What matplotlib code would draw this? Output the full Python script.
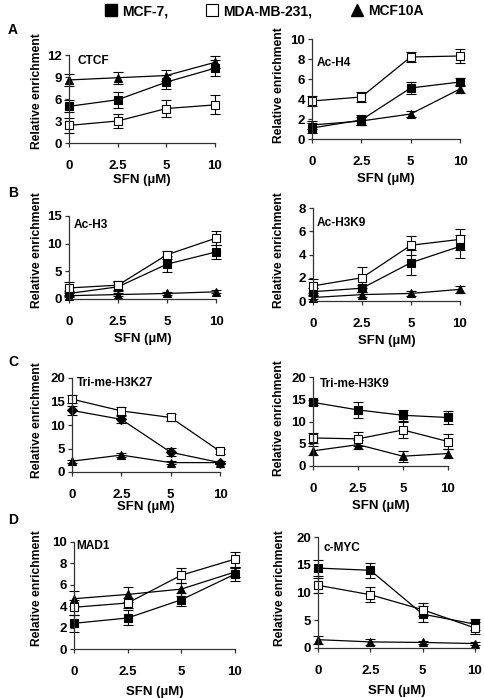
import matplotlib
matplotlib.use("Agg")
import matplotlib.pyplot as plt
from matplotlib.lines import Line2D

plt.rcParams['font.family'] = ['Liberation Sans', 'DejaVu Sans']
plt.rcParams['font.weight'] = 'bold'

# --- data ---
doses = ['0', '2.5', '5', '10']
cells = ['MCF-7,', 'MDA-MB-231,', 'MCF10A']

ctcf_mcf7 = [5.0, 5.9, 8.3, 10.2]
ctcf_mcf7_err = [0.8, 1.1, 1.0, 1.1]
ctcf_mda = [2.4, 3.0, 4.7, 5.2]
ctcf_mda_err = [1.0, 0.9, 1.2, 1.3]
ctcf_10a = [8.6, 8.9, 9.2, 11.0]
ctcf_10a_err = [0.8, 0.8, 0.7, 0.8]

ach4_mcf7 = [1.1, 1.9, 5.1, 5.7]
ach4_mcf7_err = [0.5, 0.5, 0.6, 0.4]
ach4_mda = [3.8, 4.2, 8.2, 8.3]
ach4_mda_err = [0.5, 0.5, 0.5, 0.7]
ach4_10a = [1.4, 1.8, 2.5, 5.0]
ach4_10a_err = [0.4, 0.4, 0.3, 0.4]

ach3_mcf7 = [1.0, 2.2, 6.3, 8.5]
ach3_mcf7_err = [0.5, 0.8, 1.4, 1.2]
ach3_mda = [2.0, 2.5, 8.0, 11.0]
ach3_mda_err = [1.0, 0.8, 0.7, 1.2]
ach3_10a = [0.6, 0.8, 1.0, 1.3]
ach3_10a_err = [0.2, 0.2, 0.2, 0.3]

ach3k9_mcf7 = [0.8, 1.1, 3.3, 4.7]
ach3k9_mcf7_err = [0.3, 0.3, 1.1, 1.0]
ach3k9_mda = [1.3, 2.0, 4.8, 5.3]
ach3k9_mda_err = [0.6, 0.9, 0.8, 0.9]
ach3k9_10a = [0.3, 0.55, 0.65, 1.0]
ach3k9_10a_err = [0.1, 0.2, 0.2, 0.3]

k27_mcf7 = [13.1, 11.2, 4.2, 2.0]
k27_mcf7_err = [1.0, 0.8, 0.9, 0.3]
k27_mda = [15.5, 13.0, 11.6, 4.4]
k27_mda_err = [0.8, 0.8, 0.8, 0.5]
k27_10a = [2.3, 3.6, 2.0, 2.0]
k27_10a_err = [0.3, 0.4, 0.3, 0.3]

k9_mcf7 = [14.3, 12.6, 11.4, 10.9]
k9_mcf7_err = [0.5, 1.8, 1.2, 1.5]
k9_mda = [6.3, 6.1, 8.1, 5.5]
k9_mda_err = [1.2, 1.5, 1.8, 1.6]
k9_10a = [3.4, 4.8, 2.2, 2.8]
k9_10a_err = [1.0, 1.0, 1.2, 1.0]

mad1_mcf7 = [2.4, 2.9, 4.6, 7.0]
mad1_mcf7_err = [0.8, 0.7, 0.6, 0.6]
mad1_mda = [3.9, 4.3, 6.9, 8.4]
mad1_mda_err = [0.7, 0.5, 0.7, 0.7]
mad1_10a = [4.7, 5.1, 5.6, 7.2]
mad1_10a_err = [0.7, 0.7, 0.6, 0.5]

myc_mcf7 = [14.4, 14.0, 6.1, 4.3]
myc_mcf7_err = [1.4, 1.4, 1.5, 1.0]
myc_mda = [11.3, 9.6, 6.9, 3.6]
myc_mda_err = [1.3, 1.4, 1.2, 1.0]
myc_10a = [1.5, 1.1, 1.0, 0.8]
myc_10a_err = [0.7, 0.6, 0.2, 0.2]

# --- layout (pixels of a 485x698 canvas) ---
W, H = 485, 698

def px_axes(fig, x0, x1, ytop, ybot):
    return fig.add_axes([x0 / W, 1 - ybot / H, (x1 - x0) / W, (ybot - ytop) / H])

fig = plt.figure(figsize=(W / 100, H / 100), dpi=100)

panels = [
    # name, box, yticks, title pos, series, ylabel x, ylabel y, xlabel pad, mcf-7 marker
    ("CTCF", (69, 215, 55, 143), [0, 3, 6, 9, 12], (0.055, 0.93),
     (ctcf_mcf7, ctcf_mcf7_err, ctcf_mda, ctcf_mda_err, ctcf_10a, ctcf_10a_err), 43, 91, 1.5, 's'),
    ("Ac-H4", (312, 460, 39, 139), [0, 2, 4, 6, 8, 10], (0.034, 0.76),
     (ach4_mcf7, ach4_mcf7_err, ach4_mda, ach4_mda_err, ach4_10a, ach4_10a_err), 285, 85, 4, 's'),
    ("Ac-H3", (69, 216, 216, 299), [0, 5, 10, 15], (0.03, 0.89),
     (ach3_mcf7, ach3_mcf7_err, ach3_mda, ach3_mda_err, ach3_10a, ach3_10a_err), 43, 250, 4, 's'),
    ("Ac-H3K9", (313, 460, 208, 301), [0, 2, 4, 6, 8], (0.027, 0.84),
     (ach3k9_mcf7, ach3k9_mcf7_err, ach3k9_mda, ach3k9_mda_err, ach3k9_10a, ach3k9_10a_err), 285, 250, 4, 's'),
    ("Tri-me-H3K27", (72, 220, 378, 472), [0, 5, 10, 15, 20], (0.034, 0.95),
     (k27_mcf7, k27_mcf7_err, k27_mda, k27_mda_err, k27_10a, k27_10a_err), 43, 420, 0, 'D'),
    ("Tri-me-H3K9", (313, 448, 377, 466), [0, 5, 10, 15, 20], (0.052, 0.92),
     (k9_mcf7, k9_mcf7_err, k9_mda, k9_mda_err, k9_10a, k9_10a_err), 285, 418, 4, 's'),
    ("MAD1", (74, 235, 542, 649), [0, 2, 4, 6, 8, 10], (0.012, 0.96),
     (mad1_mcf7, mad1_mcf7_err, mad1_mda, mad1_mda_err, mad1_10a, mad1_10a_err), 43, 588, 6, 's'),
    ("c-MYC", (318, 475, 537, 648), [0, 5, 10, 15, 20], (0.038, 0.9),
     (myc_mcf7, myc_mcf7_err, myc_mda, myc_mda_err, myc_10a, myc_10a_err), 286, 588, 6, 's'),
]

x = list(range(len(doses)))
err_kw = dict(color='black', lw=0.9, elinewidth=0.8, capsize=3.3, capthick=0.8,
              markeredgecolor='black', markeredgewidth=0.8, clip_on=False)

for name, box, yticks, tpos, series, ylx, yly, xpad, m7 in panels:
    ax = px_axes(fig, *box)
    s7, e7, smda, emda, s10, e10 = series
    ax.errorbar(x, s10, yerr=e10, marker='^', ms=6, markerfacecolor='black', **err_kw)
    ax.errorbar(x, s7, yerr=e7, marker=m7, ms=5.5 if m7 == 's' else 5, markerfacecolor='black', **err_kw)
    ax.errorbar(x, smda, yerr=emda, marker='s', ms=5.5, markerfacecolor='white', **err_kw)
    for ln in ax.lines:
        ln.set_clip_on(False)
    for c in ax.collections:
        c.set_clip_on(False)

    ax.set_xlim(0, 3)
    ax.set_ylim(0, yticks[-1])
    ax.set_xticks(x)
    ax.set_xticklabels(doses)
    ax.set_yticks(yticks)
    for sp in ['top', 'right']:
        ax.spines[sp].set_visible(False)
    for sp in ['left', 'bottom']:
        ax.spines[sp].set_linewidth(0.9)
        ax.spines[sp].set_color('#333333')
    ax.tick_params(axis='both', direction='out', length=3, width=0.9, color='#333333',
                   labelsize=9.5)
    ax.tick_params(axis='x', pad=9)
    ax.tick_params(axis='y', pad=2)
    for lab in ax.get_xticklabels() + ax.get_yticklabels():
        lab.set_fontweight('bold')

    ax.set_xlabel('SFN (µM)', fontsize=9.5, fontweight='bold', labelpad=xpad)
    ax.set_ylabel('Relative enrichment', fontsize=8.7, fontweight='bold')
    ax.yaxis.set_label_coords(ylx / W, 1 - yly / H, transform=fig.transFigure)
    ax.text(tpos[0], tpos[1], name, transform=ax.transAxes, ha='left', va='center',
            fontsize=8.6, fontweight='bold')

# panel letters
for letter, ypx in [('A', 30), ('B', 193), ('C', 362), ('D', 520)]:
    fig.text(8 / W, 1 - ypx / H, letter, fontsize=10, fontweight='bold', ha='left', va='center')

# legend
handles = [
    Line2D([], [], ls='none', marker='s', ms=9, mfc='black', mec='black'),
    Line2D([], [], ls='none', marker='s', ms=9, mfc='white', mec='black', mew=0.8),
    Line2D([], [], ls='none', marker='^', ms=9, mfc='black', mec='black'),
]
fig.legend(handles, cells, loc='center', bbox_to_anchor=(263 / W, 1 - 11 / H), ncol=3,
           frameon=False, handletextpad=0.2, columnspacing=2.6, handlelength=1.2,
           prop={'size': 10, 'weight': 'bold'})

fig.savefig('out.png', dpi=100)
